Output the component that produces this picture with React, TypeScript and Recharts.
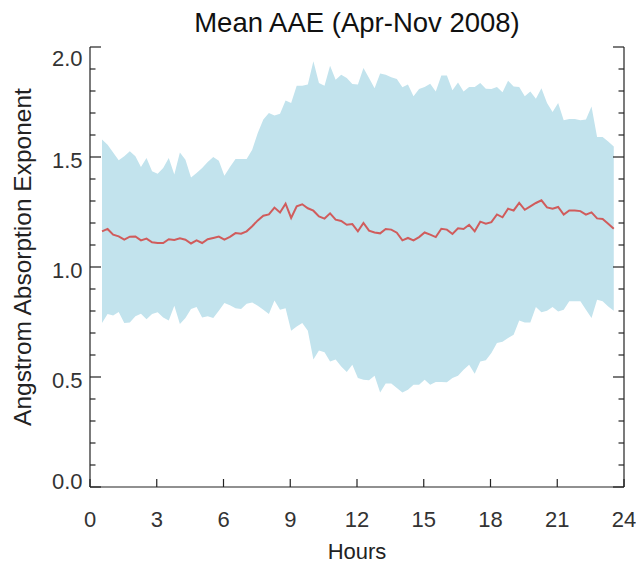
import { Area, ComposedChart, Line, XAxis, YAxis } from "recharts"

// diurnal AAE statistics, one value every 15 minutes starting ~00:32
const meanAAE = [
  1.162, 1.173, 1.147, 1.139, 1.124, 1.138, 1.139, 1.121, 1.129, 1.112, 1.109, 1.109,
  1.126, 1.123, 1.13, 1.124, 1.107, 1.121, 1.109, 1.126, 1.132, 1.138, 1.124, 1.137,
  1.154, 1.151, 1.162, 1.185, 1.212, 1.233, 1.239, 1.27, 1.248, 1.288, 1.223, 1.276,
  1.285, 1.267, 1.256, 1.23, 1.22, 1.244, 1.215, 1.209, 1.192, 1.195, 1.162,
  1.2, 1.165, 1.157, 1.153, 1.173, 1.17, 1.156, 1.121, 1.132, 1.121, 1.136, 1.157,
  1.147, 1.136, 1.174, 1.17, 1.15, 1.176, 1.173, 1.192, 1.162, 1.206, 1.197,
  1.204, 1.239, 1.226, 1.265, 1.257, 1.291, 1.26, 1.276, 1.291, 1.303, 1.271, 1.265,
  1.273, 1.238, 1.257, 1.257, 1.254, 1.238, 1.248, 1.221, 1.218, 1.197, 1.174,
]

const upperAAE = [
  1.579, 1.556, 1.521, 1.485, 1.503, 1.526, 1.503, 1.454, 1.495, 1.435, 1.424, 1.45,
  1.495, 1.42, 1.521, 1.488, 1.407, 1.427, 1.45, 1.477, 1.5, 1.483, 1.415, 1.454,
  1.491, 1.491, 1.491, 1.533, 1.609, 1.67, 1.7, 1.689, 1.697, 1.757, 1.745, 1.824,
  1.824, 1.829, 1.935, 1.836, 1.824, 1.915, 1.851, 1.874, 1.859, 1.832, 1.829,
  1.904, 1.859, 1.813, 1.879, 1.874, 1.863, 1.854, 1.817, 1.829, 1.776, 1.809, 1.818,
  1.833, 1.798, 1.871, 1.87, 1.803, 1.839, 1.798, 1.818, 1.818, 1.836, 1.81,
  1.809, 1.818, 1.794, 1.847, 1.821, 1.818, 1.776, 1.798, 1.765, 1.813, 1.745, 1.704,
  1.745, 1.667, 1.673, 1.673, 1.667, 1.67, 1.73, 1.591, 1.591, 1.571, 1.548,
]

const lowerAAE = [
  0.745, 0.786, 0.779, 0.795, 0.745, 0.748, 0.776, 0.788, 0.763, 0.786, 0.794, 0.771,
  0.757, 0.824, 0.741, 0.768, 0.809, 0.818, 0.771, 0.776, 0.768, 0.801, 0.836, 0.826,
  0.813, 0.809, 0.833, 0.839, 0.824, 0.806, 0.786, 0.848, 0.806, 0.813, 0.71, 0.73,
  0.745, 0.71, 0.579, 0.621, 0.612, 0.571, 0.579, 0.548, 0.523, 0.556, 0.495,
  0.488, 0.485, 0.506, 0.43, 0.47, 0.47, 0.45, 0.43, 0.442, 0.465, 0.465, 0.488,
  0.465, 0.477, 0.477, 0.476, 0.495, 0.506, 0.533, 0.556, 0.515, 0.571, 0.576,
  0.609, 0.654, 0.66, 0.677, 0.692, 0.757, 0.748, 0.748, 0.818, 0.794, 0.801, 0.818,
  0.798, 0.806, 0.844, 0.844, 0.844, 0.806, 0.768, 0.851, 0.844, 0.821, 0.801,
]

const hourTicks = [0, 3, 6, 9, 12, 15, 18, 21, 24]
const aaeTicks = [
  0, 0.1, 0.2, 0.3, 0.4, 0.5, 0.6, 0.7, 0.8, 0.9, 1, 1.1, 1.2, 1.3, 1.4, 1.5, 1.6, 1.7,
  1.8, 1.9, 2,
]

const hours = meanAAE.map((_, i) => 0.54 + i * 0.25)

const data = hours.map((hour, i) => ({
  hour,
  mean: meanAAE[i],
  lower: lowerAAE[i],
  upper: upperAAE[i],
}))

const FONT = '"Liberation Sans", Arial, Helvetica, sans-serif'
const AXIS = "#222"

const isMajor = (v: number) => Math.round(v * 10) % 5 === 0

// ticks point into the plot, like the original IDL frame
const BottomTick = ({ x, y, payload }: any) => (
  <g>
    <line x1={x} x2={x} y1={y} y2={y - 8} stroke={AXIS} strokeWidth={1.2} />
    <text
      x={x}
      y={y + 32}
      textAnchor="middle"
      dominantBaseline="central"
      fontSize={22}
      fontFamily={FONT}
      fill="#333"
    >
      {payload.value}
    </text>
  </g>
)

const TopTick = ({ x, y }: any) => (
  <line x1={x} x2={x} y1={y} y2={y + 9} stroke={AXIS} strokeWidth={1.2} />
)

const LeftTick = ({ x, y, payload }: any) => {
  const v = payload.value
  const major = isMajor(v)
  let dy = 3.5
  if (v === 2) dy = 11
  if (v === 0) dy = -5.5
  return (
    <g>
      <line x1={x} x2={x + (major ? 11 : 5.5)} y1={y} y2={y} stroke={AXIS} strokeWidth={1.2} />
      {major && (
        <text
          x={x - 7.5}
          y={y + dy}
          textAnchor="end"
          dominantBaseline="central"
          fontSize={22}
          fontFamily={FONT}
          fill="#333"
        >
          {v.toFixed(1)}
        </text>
      )}
    </g>
  )
}

const RightTick = ({ x, y, payload }: any) => (
  <line
    x1={x}
    x2={x - (isMajor(payload.value) ? 11 : 5.5)}
    y1={y}
    y2={y}
    stroke={AXIS}
    strokeWidth={1.2}
  />
)

export default function App() {
  return (
    <div style={{ position: "absolute", left: 0, top: 0, width: 636, height: 564, background: "#fff" }}>
      <ComposedChart
        width={636}
        height={564}
        data={data}
        margin={{ top: 47, right: 0, bottom: 0, left: 0 }}
      >
        <XAxis
          dataKey="hour"
          type="number"
          domain={[0, 24]}
          ticks={hourTicks}
          allowDataOverflow
          height={77}
          tickSize={0}
          tickMargin={0}
          tickLine={false}
          axisLine={{ stroke: AXIS, strokeWidth: 1.2 }}
          tick={<BottomTick />}
        />
        <XAxis
          xAxisId="top"
          orientation="top"
          type="number"
          domain={[0, 24]}
          ticks={hourTicks}
          allowDataOverflow
          height={0}
          tickSize={0}
          tickMargin={0}
          tickLine={false}
          axisLine={{ stroke: AXIS, strokeWidth: 1.2 }}
          tick={<TopTick />}
        />
        <YAxis
          type="number"
          domain={[0, 2]}
          ticks={aaeTicks}
          allowDataOverflow
          width={90}
          tickSize={0}
          tickMargin={0}
          tickLine={false}
          axisLine={{ stroke: AXIS, strokeWidth: 1.2 }}
          tick={<LeftTick />}
          interval={0}
        />
        <YAxis
          yAxisId="right"
          orientation="right"
          type="number"
          domain={[0, 2]}
          ticks={aaeTicks}
          allowDataOverflow
          width={12}
          tickSize={0}
          tickMargin={0}
          tickLine={false}
          axisLine={{ stroke: AXIS, strokeWidth: 1.2 }}
          tick={<RightTick />}
          interval={0}
        />
        <Area
          type="linear"
          dataKey={(d: any) => [d.lower, d.upper]}
          stroke="none"
          fill="#c2e3ed"
          fillOpacity={1}
          isAnimationActive={false}
        />
        <Line
          type="linear"
          dataKey="mean"
          stroke="#d05c5c"
          strokeWidth={2}
          dot={false}
          isAnimationActive={false}
        />
      </ComposedChart>
      <svg
        width={636}
        height={564}
        style={{ position: "absolute", left: 0, top: 0, pointerEvents: "none" }}
      >
        <text
          x={357}
          y={22}
          textAnchor="middle"
          dominantBaseline="central"
          fontSize={27.5}
          fontFamily={FONT}
          fill="#111"
        >
          Mean AAE (Apr-Nov 2008)
        </text>
        <text
          x={357}
          y={551}
          textAnchor="middle"
          dominantBaseline="central"
          fontSize={22}
          fontFamily={FONT}
          fill="#222"
        >
          Hours
        </text>
        <text
          x={22}
          y={257}
          transform="rotate(-90 22 257)"
          textAnchor="middle"
          dominantBaseline="central"
          fontSize={24.5}
          fontFamily={FONT}
          fill="#222"
        >
          Angstrom Absorption Exponent
        </text>
      </svg>
    </div>
  )
}
